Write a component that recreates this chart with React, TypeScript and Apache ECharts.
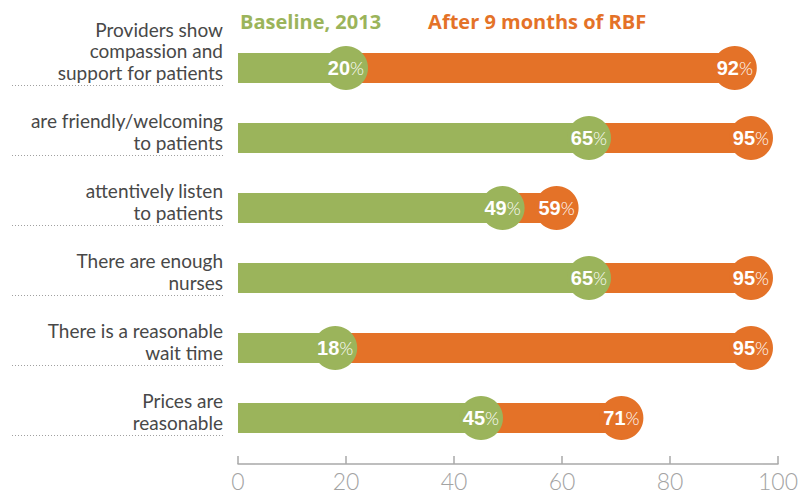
import React, { useEffect, useRef } from "react";
import * as echarts from "echarts";

const categories = [
  "Providers show\ncompassion and\nsupport for patients",
  "are friendly/welcoming\nto patients",
  "attentively listen\nto patients",
  "There are enough\nnurses",
  "There is a reasonable\nwait time",
  "Prices are\nreasonable",
];
const baseline = [20, 65, 49, 65, 18, 45];
const afterRBF = [92, 95, 59, 95, 95, 71];
const xTicks = [0, 20, 40, 60, 80, 100];

const GREEN = "#9bb45b";
const ORANGE = "#e47228";
const baselineName = "Baseline, 2013";
const afterName = "After 9 months of RBF";

export default function App() {
  const ref = useRef<HTMLDivElement>(null);
  useEffect(() => {
    if (!ref.current) return;
    const chart = echarts.init(ref.current, null, { renderer: "svg" });
    const circleLabel = () => ({
      show: true,
      position: "inside",
      formatter: (p: any) => `{n|${p.value[0]}}{p|%}`,
      rich: {
        n: {
          fontFamily: "Liberation Sans, Arial, sans-serif",
          fontWeight: "bold",
          fontSize: 20,
          color: "#ffffff",
        },
        p: {
          fontFamily: "Lato, sans-serif",
          fontWeight: 300,
          fontSize: 18,
          color: "#ffffff",
        },
      },
    });
    chart.setOption({
      animation: false,
      backgroundColor: "#ffffff",
      legend: {
        left: 230,
        top: 6,
        icon: "none",
        itemWidth: 0,
        itemGap: 42,
        selectedMode: false,
        data: [
          { name: baselineName, textStyle: { color: GREEN } },
          { name: afterName, textStyle: { color: ORANGE } },
        ],
        textStyle: {
          fontFamily: "Open Sans, sans-serif",
          fontWeight: "bold",
          fontSize: 20,
        },
      },
      grid: { left: 238, right: 19, top: 33, bottom: 41, containLabel: false },
      xAxis: {
        type: "value",
        min: xTicks[0],
        max: xTicks[xTicks.length - 1],
        interval: 20,
        offset: 11,
        axisLine: { show: true, lineStyle: { color: "#a8a8a8", width: 1.5 } },
        axisTick: { show: true, inside: true, length: 8, lineStyle: { color: "#a8a8a8", width: 1.5 } },
        splitLine: { show: false },
        axisLabel: {
          color: "#a3a3a3",
          fontFamily: "Lato, sans-serif",
          fontWeight: 300,
          fontSize: 23,
          margin: 5,
        },
      },
      yAxis: {
        type: "category",
        data: categories,
        inverse: true,
        axisLine: { show: false },
        axisTick: { show: false },
        axisLabel: { show: false },
        splitLine: { show: false },
      },
      series: [
        {
          name: afterName,
          type: "bar",
          data: afterRBF,
          barWidth: 30,
          barGap: "-100%",
          itemStyle: { color: ORANGE },
        },
        {
          name: baselineName,
          type: "bar",
          data: baseline,
          barWidth: 30,
          barGap: "-100%",
          itemStyle: { color: GREEN },
        },
        {
          name: "afterDots",
          type: "scatter",
          data: afterRBF.map((v, i) => [v, i]),
          symbol: "circle",
          symbolSize: 44,
          itemStyle: { color: ORANGE, opacity: 1 },
          label: circleLabel(),
          z: 3,
        },
        {
          name: "baselineDots",
          type: "scatter",
          data: baseline.map((v, i) => [v, i]),
          symbol: "circle",
          symbolSize: 44,
          itemStyle: { color: GREEN, opacity: 1 },
          label: circleLabel(),
          z: 4,
        },
        {
          name: "labels",
          type: "custom",
          data: categories.map((c, i) => [0, i]),
          encode: { x: 0, y: 1 },
          clip: false,
          silent: true,
          renderItem: (params: any, api: any) => {
            const pt = api.coord([0, api.value(1)]);
            const left = pt[0];
            const cy = pt[1];
            const lineY = Math.round(cy + 17) + 0.5;
            return {
              type: "group",
              children: [
                {
                  type: "text",
                  style: {
                    text: categories[params.dataIndex],
                    x: left - 15,
                    y: cy + 15,
                    align: "right",
                    verticalAlign: "bottom",
                    fontFamily: "Lato, sans-serif",
                    fontWeight: "normal",
                    fontSize: 19,
                    lineHeight: 21.5,
                    fill: "#484848",
                  },
                },
                {
                  type: "line",
                  shape: { x1: 12, y1: lineY, x2: left - 13, y2: lineY },
                  style: { stroke: "#a0a0a0", lineWidth: 1, lineDash: [1, 2] },
                },
              ],
            };
          },
        },
      ],
    });
    return () => chart.dispose();
  }, []);
  return <div ref={ref} style={{ width: 801, height: 494, position: "absolute", left: 0, top: 0 }} />;
}
